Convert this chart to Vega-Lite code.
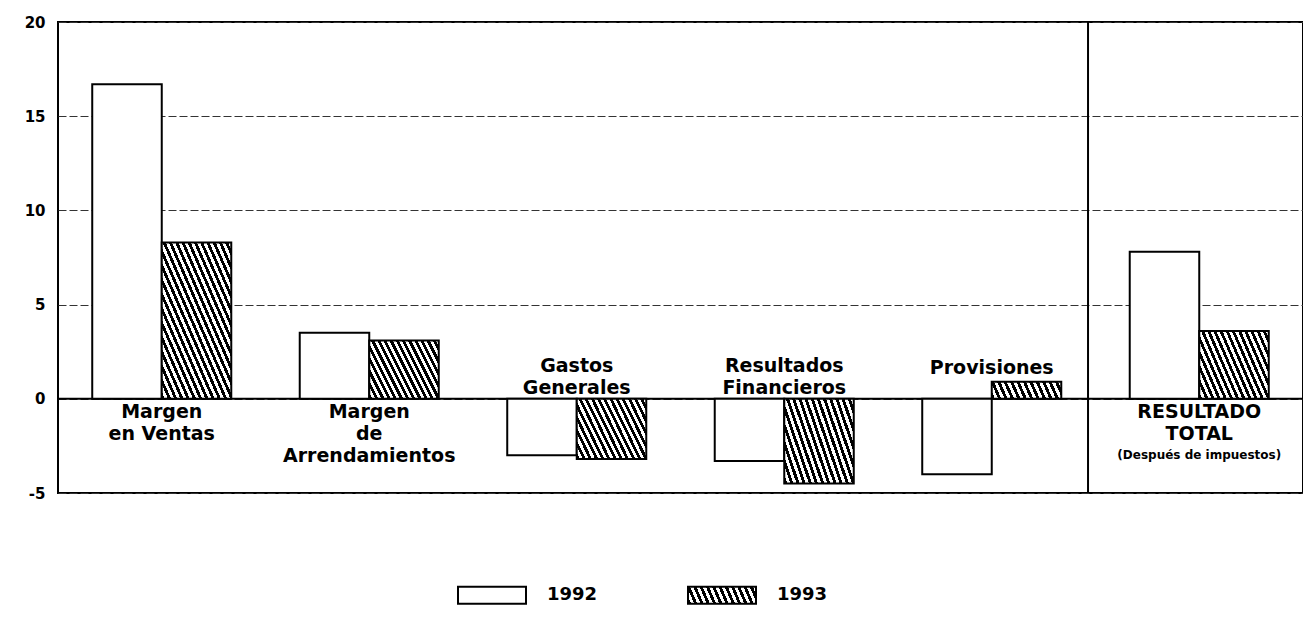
{
  "$schema": "https://vega.github.io/schema/vega-lite/v6.json",
  "width": 1245,
  "height": 471,
  "autosize": {"type": "none"},
  "padding": {"left": 58, "top": 22, "right": 0, "bottom": 130},
  "background": "white",
  "config": {"view": {"stroke": "black", "strokeWidth": 2}, "font": "DejaVu Sans"},
  "datasets": {
    "bars": [
      {"cat": "Ventas", "year": "1992", "value": 16.7},
      {"cat": "Ventas", "year": "1993", "value": 8.3},
      {"cat": "Arrend", "year": "1992", "value": 3.5},
      {"cat": "Arrend", "year": "1993", "value": 3.1},
      {"cat": "Gastos", "year": "1992", "value": -3.0},
      {"cat": "Gastos", "year": "1993", "value": -3.2},
      {"cat": "Fin", "year": "1992", "value": -3.3},
      {"cat": "Fin", "year": "1993", "value": -4.5},
      {"cat": "Prov", "year": "1992", "value": -4.0},
      {"cat": "Prov", "year": "1993", "value": 0.9},
      {"cat": "Total", "year": "1992", "value": 7.8},
      {"cat": "Total", "year": "1993", "value": 3.6}
    ],
    "labels": [
      {"cat": "Ventas", "lines": ["Margen", "en Ventas"], "side": "below"},
      {"cat": "Arrend", "lines": ["Margen", "de", "Arrendamientos"], "side": "below"},
      {"cat": "Gastos", "lines": ["Gastos", "Generales"], "side": "above"},
      {"cat": "Fin", "lines": ["Resultados", "Financieros"], "side": "above"},
      {"cat": "Prov", "lines": ["Provisiones"], "side": "prov"},
      {"cat": "Total", "lines": ["RESULTADO", "TOTAL"], "side": "below"},
      {"cat": "Total", "lines": ["(Después de impuestos)"], "side": "note"}
    ],
    "divider": [{"cat": "Total"}],
    "zero": [{"v": 0}]
  },
  "layer": [
    {
      "data": {"name": "zero"},
      "mark": {"type": "rule", "color": "black", "strokeWidth": 2},
      "encoding": {
        "y": {"field": "v", "type": "quantitative", "scale": {"domain": [-5, 20], "nice": false},
          "axis": {"values": [-5, 0, 5, 10, 15, 20], "ticks": false, "domain": false, "title": null,
            "labelFont": "DejaVu Sans", "labelFontWeight": "bold", "labelFontSize": 15, "labelColor": "black",
            "labelPadding": 13, "labelExpr": "'' + datum.value",
            "grid": true, "gridDash": [8, 3], "gridColor": "#333", "gridWidth": 1}}
      }
    },
    {
      "data": {"name": "divider"},
      "mark": {"type": "rule", "color": "black", "strokeWidth": 2},
      "encoding": {
        "x": {"field": "cat", "type": "nominal", "bandPosition": -0.3, "sort": ["Ventas", "Arrend", "Gastos", "Fin", "Prov", "Total"], "scale": {"domain": ["Ventas", "Arrend", "Gastos", "Fin", "Prov", "Total"], "paddingInner": 0.33, "paddingOuter": 0.165}, "axis": null}
      }
    },
    {
      "data": {"name": "bars"},
      "transform": [{"filter": "datum.year === '1992'"}],
      "mark": {"type": "bar", "stroke": "black", "strokeWidth": 2},
      "encoding": {
        "x": {"field": "cat", "type": "nominal", "sort": ["Ventas", "Arrend", "Gastos", "Fin", "Prov", "Total"], "scale": {"domain": ["Ventas", "Arrend", "Gastos", "Fin", "Prov", "Total"], "paddingInner": 0.33, "paddingOuter": 0.165}, "axis": null},
        "xOffset": {"field": "year", "type": "nominal", "scale": {"domain": ["1992", "1993"], "paddingInner": 0, "paddingOuter": 0}},
        "y": {"field": "value", "type": "quantitative"},
        "fill": {"field": "year", "type": "nominal", "scale": {"domain": ["1992", "1993"], "range": ["white",
          {"expr": "{gradient: 'linear', x1: -0.1058, y1: 0.0113, x2: 0.9887, y2: -0.1058, stops: [{offset: 0, color: '#000'}, {offset: 0.0417, color: '#000'}, {offset: 0.0417, color: '#fff'}, {offset: 0.0833, color: '#fff'}, {offset: 0.0833, color: '#000'}, {offset: 0.125, color: '#000'}, {offset: 0.125, color: '#fff'}, {offset: 0.1667, color: '#fff'}, {offset: 0.1667, color: '#000'}, {offset: 0.2083, color: '#000'}, {offset: 0.2083, color: '#fff'}, {offset: 0.25, color: '#fff'}, {offset: 0.25, color: '#000'}, {offset: 0.2917, color: '#000'}, {offset: 0.2917, color: '#fff'}, {offset: 0.3333, color: '#fff'}, {offset: 0.3333, color: '#000'}, {offset: 0.375, color: '#000'}, {offset: 0.375, color: '#fff'}, {offset: 0.4167, color: '#fff'}, {offset: 0.4167, color: '#000'}, {offset: 0.4583, color: '#000'}, {offset: 0.4583, color: '#fff'}, {offset: 0.5, color: '#fff'}, {offset: 0.5, color: '#000'}, {offset: 0.5417, color: '#000'}, {offset: 0.5417, color: '#fff'}, {offset: 0.5833, color: '#fff'}, {offset: 0.5833, color: '#000'}, {offset: 0.625, color: '#000'}, {offset: 0.625, color: '#fff'}, {offset: 0.6667, color: '#fff'}, {offset: 0.6667, color: '#000'}, {offset: 0.7083, color: '#000'}, {offset: 0.7083, color: '#fff'}, {offset: 0.75, color: '#fff'}, {offset: 0.75, color: '#000'}, {offset: 0.7917, color: '#000'}, {offset: 0.7917, color: '#fff'}, {offset: 0.8333, color: '#fff'}, {offset: 0.8333, color: '#000'}, {offset: 0.875, color: '#000'}, {offset: 0.875, color: '#fff'}, {offset: 0.9167, color: '#fff'}, {offset: 0.9167, color: '#000'}, {offset: 0.9583, color: '#000'}, {offset: 0.9583, color: '#fff'}, {offset: 1, color: '#fff'}]}"}]},
          "legend": {"orient": "none", "legendX": 399, "legendY": 538, "direction": "horizontal", "title": null,
            "symbolType": "M-1,-0.25H1V0.25H-1Z", "symbolSize": 4624, "symbolStrokeColor": "black", "symbolStrokeWidth": 2,
            "symbolOpacity": 1, "labelFont": "DejaVu Sans", "labelFontWeight": "bold", "labelFontSize": 18, "labelColor": "black",
            "labelOffset": 20, "columnPadding": 86,
            "encode": {"symbols": {"update": {
              "stroke": {"value": "black"},
              "strokeWidth": {"value": 2},
              "opacity": {"value": 1},
              "fillOpacity": {"value": 1},
              "strokeOpacity": {"value": 1}}}}}}
      }
    },
    {
      "data": {"name": "bars"},
      "transform": [{"filter": "datum.year === '1993' && datum.cat === 'Ventas'"}],
      "mark": {"type": "bar", "stroke": "black", "strokeWidth": 2,
        "fill": {"gradient": "linear", "x1": -0.4999, "y1": 0.4878, "x2": 0.5121, "y2": -0.4999, "stops": [
          {"offset": 0, "color": "#000"}, {"offset": 0.02273, "color": "#000"}, {"offset": 0.02273, "color": "#fff"}, {"offset": 0.04545, "color": "#fff"},
          {"offset": 0.04545, "color": "#000"}, {"offset": 0.06818, "color": "#000"}, {"offset": 0.06818, "color": "#fff"}, {"offset": 0.09091, "color": "#fff"},
          {"offset": 0.09091, "color": "#000"}, {"offset": 0.11364, "color": "#000"}, {"offset": 0.11364, "color": "#fff"}, {"offset": 0.13636, "color": "#fff"},
          {"offset": 0.13636, "color": "#000"}, {"offset": 0.15909, "color": "#000"}, {"offset": 0.15909, "color": "#fff"}, {"offset": 0.18182, "color": "#fff"},
          {"offset": 0.18182, "color": "#000"}, {"offset": 0.20455, "color": "#000"}, {"offset": 0.20455, "color": "#fff"}, {"offset": 0.22727, "color": "#fff"},
          {"offset": 0.22727, "color": "#000"}, {"offset": 0.25, "color": "#000"}, {"offset": 0.25, "color": "#fff"}, {"offset": 0.27273, "color": "#fff"},
          {"offset": 0.27273, "color": "#000"}, {"offset": 0.29545, "color": "#000"}, {"offset": 0.29545, "color": "#fff"}, {"offset": 0.31818, "color": "#fff"},
          {"offset": 0.31818, "color": "#000"}, {"offset": 0.34091, "color": "#000"}, {"offset": 0.34091, "color": "#fff"}, {"offset": 0.36364, "color": "#fff"},
          {"offset": 0.36364, "color": "#000"}, {"offset": 0.38636, "color": "#000"}, {"offset": 0.38636, "color": "#fff"}, {"offset": 0.40909, "color": "#fff"},
          {"offset": 0.40909, "color": "#000"}, {"offset": 0.43182, "color": "#000"}, {"offset": 0.43182, "color": "#fff"}, {"offset": 0.45455, "color": "#fff"},
          {"offset": 0.45455, "color": "#000"}, {"offset": 0.47727, "color": "#000"}, {"offset": 0.47727, "color": "#fff"}, {"offset": 0.5, "color": "#fff"},
          {"offset": 0.5, "color": "#000"}, {"offset": 0.52273, "color": "#000"}, {"offset": 0.52273, "color": "#fff"}, {"offset": 0.54545, "color": "#fff"},
          {"offset": 0.54545, "color": "#000"}, {"offset": 0.56818, "color": "#000"}, {"offset": 0.56818, "color": "#fff"}, {"offset": 0.59091, "color": "#fff"},
          {"offset": 0.59091, "color": "#000"}, {"offset": 0.61364, "color": "#000"}, {"offset": 0.61364, "color": "#fff"}, {"offset": 0.63636, "color": "#fff"},
          {"offset": 0.63636, "color": "#000"}, {"offset": 0.65909, "color": "#000"}, {"offset": 0.65909, "color": "#fff"}, {"offset": 0.68182, "color": "#fff"},
          {"offset": 0.68182, "color": "#000"}, {"offset": 0.70455, "color": "#000"}, {"offset": 0.70455, "color": "#fff"}, {"offset": 0.72727, "color": "#fff"},
          {"offset": 0.72727, "color": "#000"}, {"offset": 0.75, "color": "#000"}, {"offset": 0.75, "color": "#fff"}, {"offset": 0.77273, "color": "#fff"},
          {"offset": 0.77273, "color": "#000"}, {"offset": 0.79545, "color": "#000"}, {"offset": 0.79545, "color": "#fff"}, {"offset": 0.81818, "color": "#fff"},
          {"offset": 0.81818, "color": "#000"}, {"offset": 0.84091, "color": "#000"}, {"offset": 0.84091, "color": "#fff"}, {"offset": 0.86364, "color": "#fff"},
          {"offset": 0.86364, "color": "#000"}, {"offset": 0.88636, "color": "#000"}, {"offset": 0.88636, "color": "#fff"}, {"offset": 0.90909, "color": "#fff"},
          {"offset": 0.90909, "color": "#000"}, {"offset": 0.93182, "color": "#000"}, {"offset": 0.93182, "color": "#fff"}, {"offset": 0.95455, "color": "#fff"},
          {"offset": 0.95455, "color": "#000"}, {"offset": 0.97727, "color": "#000"}, {"offset": 0.97727, "color": "#fff"}, {"offset": 1, "color": "#fff"}]}},
      "encoding": {
        "x": {"field": "cat", "type": "nominal", "sort": ["Ventas", "Arrend", "Gastos", "Fin", "Prov", "Total"], "scale": {"domain": ["Ventas", "Arrend", "Gastos", "Fin", "Prov", "Total"], "paddingInner": 0.33, "paddingOuter": 0.165}, "axis": null},
        "xOffset": {"field": "year", "type": "nominal", "scale": {"domain": ["1992", "1993"], "paddingInner": 0, "paddingOuter": 0}},
        "y": {"field": "value", "type": "quantitative"}
      }
    },
    {
      "data": {"name": "bars"},
      "transform": [{"filter": "datum.year === '1993' && (datum.cat === 'Arrend' || datum.cat === 'Gastos' || datum.cat === 'Fin' || datum.cat === 'Total')"}],
      "mark": {"type": "bar", "stroke": "black", "strokeWidth": 2,
        "fill": {"gradient": "linear", "x1": -0.357, "y1": 0.15, "x2": 0.85, "y2": -0.357, "stops": [
          {"offset": 0, "color": "#000"}, {"offset": 0.03125, "color": "#000"}, {"offset": 0.03125, "color": "#fff"}, {"offset": 0.0625, "color": "#fff"},
          {"offset": 0.0625, "color": "#000"}, {"offset": 0.09375, "color": "#000"}, {"offset": 0.09375, "color": "#fff"}, {"offset": 0.125, "color": "#fff"},
          {"offset": 0.125, "color": "#000"}, {"offset": 0.15625, "color": "#000"}, {"offset": 0.15625, "color": "#fff"}, {"offset": 0.1875, "color": "#fff"},
          {"offset": 0.1875, "color": "#000"}, {"offset": 0.21875, "color": "#000"}, {"offset": 0.21875, "color": "#fff"}, {"offset": 0.25, "color": "#fff"},
          {"offset": 0.25, "color": "#000"}, {"offset": 0.28125, "color": "#000"}, {"offset": 0.28125, "color": "#fff"}, {"offset": 0.3125, "color": "#fff"},
          {"offset": 0.3125, "color": "#000"}, {"offset": 0.34375, "color": "#000"}, {"offset": 0.34375, "color": "#fff"}, {"offset": 0.375, "color": "#fff"},
          {"offset": 0.375, "color": "#000"}, {"offset": 0.40625, "color": "#000"}, {"offset": 0.40625, "color": "#fff"}, {"offset": 0.4375, "color": "#fff"},
          {"offset": 0.4375, "color": "#000"}, {"offset": 0.46875, "color": "#000"}, {"offset": 0.46875, "color": "#fff"}, {"offset": 0.5, "color": "#fff"},
          {"offset": 0.5, "color": "#000"}, {"offset": 0.53125, "color": "#000"}, {"offset": 0.53125, "color": "#fff"}, {"offset": 0.5625, "color": "#fff"},
          {"offset": 0.5625, "color": "#000"}, {"offset": 0.59375, "color": "#000"}, {"offset": 0.59375, "color": "#fff"}, {"offset": 0.625, "color": "#fff"},
          {"offset": 0.625, "color": "#000"}, {"offset": 0.65625, "color": "#000"}, {"offset": 0.65625, "color": "#fff"}, {"offset": 0.6875, "color": "#fff"},
          {"offset": 0.6875, "color": "#000"}, {"offset": 0.71875, "color": "#000"}, {"offset": 0.71875, "color": "#fff"}, {"offset": 0.75, "color": "#fff"},
          {"offset": 0.75, "color": "#000"}, {"offset": 0.78125, "color": "#000"}, {"offset": 0.78125, "color": "#fff"}, {"offset": 0.8125, "color": "#fff"},
          {"offset": 0.8125, "color": "#000"}, {"offset": 0.84375, "color": "#000"}, {"offset": 0.84375, "color": "#fff"}, {"offset": 0.875, "color": "#fff"},
          {"offset": 0.875, "color": "#000"}, {"offset": 0.90625, "color": "#000"}, {"offset": 0.90625, "color": "#fff"}, {"offset": 0.9375, "color": "#fff"},
          {"offset": 0.9375, "color": "#000"}, {"offset": 0.96875, "color": "#000"}, {"offset": 0.96875, "color": "#fff"}, {"offset": 1, "color": "#fff"}]}},
      "encoding": {
        "x": {"field": "cat", "type": "nominal", "sort": ["Ventas", "Arrend", "Gastos", "Fin", "Prov", "Total"], "scale": {"domain": ["Ventas", "Arrend", "Gastos", "Fin", "Prov", "Total"], "paddingInner": 0.33, "paddingOuter": 0.165}, "axis": null},
        "xOffset": {"field": "year", "type": "nominal", "scale": {"domain": ["1992", "1993"], "paddingInner": 0, "paddingOuter": 0}},
        "y": {"field": "value", "type": "quantitative"}
      }
    },
    {
      "data": {"name": "bars"},
      "transform": [{"filter": "datum.year === '1993' && datum.cat === 'Prov'"}],
      "mark": {"type": "bar", "stroke": "black", "strokeWidth": 2,
        "fill": {"gradient": "linear", "x1": -0.1058, "y1": 0.0113, "x2": 0.9887, "y2": -0.1058, "stops": [
          {"offset": 0, "color": "#000"}, {"offset": 0.0417, "color": "#000"}, {"offset": 0.0417, "color": "#fff"}, {"offset": 0.0833, "color": "#fff"},
          {"offset": 0.0833, "color": "#000"}, {"offset": 0.125, "color": "#000"}, {"offset": 0.125, "color": "#fff"}, {"offset": 0.1667, "color": "#fff"},
          {"offset": 0.1667, "color": "#000"}, {"offset": 0.2083, "color": "#000"}, {"offset": 0.2083, "color": "#fff"}, {"offset": 0.25, "color": "#fff"},
          {"offset": 0.25, "color": "#000"}, {"offset": 0.2917, "color": "#000"}, {"offset": 0.2917, "color": "#fff"}, {"offset": 0.3333, "color": "#fff"},
          {"offset": 0.3333, "color": "#000"}, {"offset": 0.375, "color": "#000"}, {"offset": 0.375, "color": "#fff"}, {"offset": 0.4167, "color": "#fff"},
          {"offset": 0.4167, "color": "#000"}, {"offset": 0.4583, "color": "#000"}, {"offset": 0.4583, "color": "#fff"}, {"offset": 0.5, "color": "#fff"},
          {"offset": 0.5, "color": "#000"}, {"offset": 0.5417, "color": "#000"}, {"offset": 0.5417, "color": "#fff"}, {"offset": 0.5833, "color": "#fff"},
          {"offset": 0.5833, "color": "#000"}, {"offset": 0.625, "color": "#000"}, {"offset": 0.625, "color": "#fff"}, {"offset": 0.6667, "color": "#fff"},
          {"offset": 0.6667, "color": "#000"}, {"offset": 0.7083, "color": "#000"}, {"offset": 0.7083, "color": "#fff"}, {"offset": 0.75, "color": "#fff"},
          {"offset": 0.75, "color": "#000"}, {"offset": 0.7917, "color": "#000"}, {"offset": 0.7917, "color": "#fff"}, {"offset": 0.8333, "color": "#fff"},
          {"offset": 0.8333, "color": "#000"}, {"offset": 0.875, "color": "#000"}, {"offset": 0.875, "color": "#fff"}, {"offset": 0.9167, "color": "#fff"},
          {"offset": 0.9167, "color": "#000"}, {"offset": 0.9583, "color": "#000"}, {"offset": 0.9583, "color": "#fff"}, {"offset": 1, "color": "#fff"}]}},
      "encoding": {
        "x": {"field": "cat", "type": "nominal", "sort": ["Ventas", "Arrend", "Gastos", "Fin", "Prov", "Total"], "scale": {"domain": ["Ventas", "Arrend", "Gastos", "Fin", "Prov", "Total"], "paddingInner": 0.33, "paddingOuter": 0.165}, "axis": null},
        "xOffset": {"field": "year", "type": "nominal", "scale": {"domain": ["1992", "1993"], "paddingInner": 0, "paddingOuter": 0}},
        "y": {"field": "value", "type": "quantitative"}
      }
    },
    {
      "data": {"name": "labels"},
      "transform": [{"filter": "datum.side === 'below'"}],
      "mark": {"type": "text", "baseline": "top", "align": "center", "dy": 4, "fontSize": 19, "fontWeight": "bold", "lineHeight": 22, "color": "black", "font": "DejaVu Sans"},
      "encoding": {
        "x": {"field": "cat", "type": "nominal", "sort": ["Ventas", "Arrend", "Gastos", "Fin", "Prov", "Total"], "scale": {"domain": ["Ventas", "Arrend", "Gastos", "Fin", "Prov", "Total"], "paddingInner": 0.33, "paddingOuter": 0.165}, "axis": null},
        "y": {"datum": 0, "type": "quantitative"},
        "text": {"field": "lines"}
      }
    },
    {
      "data": {"name": "labels"},
      "transform": [{"filter": "datum.side === 'above'"}],
      "mark": {"type": "text", "baseline": "bottom", "align": "center", "dy": -23, "fontSize": 19, "fontWeight": "bold", "lineHeight": 22, "color": "black", "font": "DejaVu Sans"},
      "encoding": {
        "x": {"field": "cat", "type": "nominal", "sort": ["Ventas", "Arrend", "Gastos", "Fin", "Prov", "Total"], "scale": {"domain": ["Ventas", "Arrend", "Gastos", "Fin", "Prov", "Total"], "paddingInner": 0.33, "paddingOuter": 0.165}, "axis": null},
        "y": {"datum": 0, "type": "quantitative"},
        "text": {"field": "lines"}
      }
    },
    {
      "data": {"name": "labels"},
      "transform": [{"filter": "datum.side === 'prov'"}],
      "mark": {"type": "text", "baseline": "bottom", "align": "center", "dy": -21, "fontSize": 19, "fontWeight": "bold", "lineHeight": 22, "color": "black", "font": "DejaVu Sans"},
      "encoding": {
        "x": {"field": "cat", "type": "nominal", "sort": ["Ventas", "Arrend", "Gastos", "Fin", "Prov", "Total"], "scale": {"domain": ["Ventas", "Arrend", "Gastos", "Fin", "Prov", "Total"], "paddingInner": 0.33, "paddingOuter": 0.165}, "axis": null},
        "y": {"datum": 0, "type": "quantitative"},
        "text": {"field": "lines"}
      }
    },
    {
      "data": {"name": "labels"},
      "transform": [{"filter": "datum.side === 'note'"}],
      "mark": {"type": "text", "baseline": "top", "align": "center", "dy": 51, "fontSize": 12, "fontWeight": "bold", "color": "black", "font": "DejaVu Sans"},
      "encoding": {
        "x": {"field": "cat", "type": "nominal", "sort": ["Ventas", "Arrend", "Gastos", "Fin", "Prov", "Total"], "scale": {"domain": ["Ventas", "Arrend", "Gastos", "Fin", "Prov", "Total"], "paddingInner": 0.33, "paddingOuter": 0.165}, "axis": null},
        "y": {"datum": 0, "type": "quantitative"},
        "text": {"field": "lines"}
      }
    }
  ]
}
